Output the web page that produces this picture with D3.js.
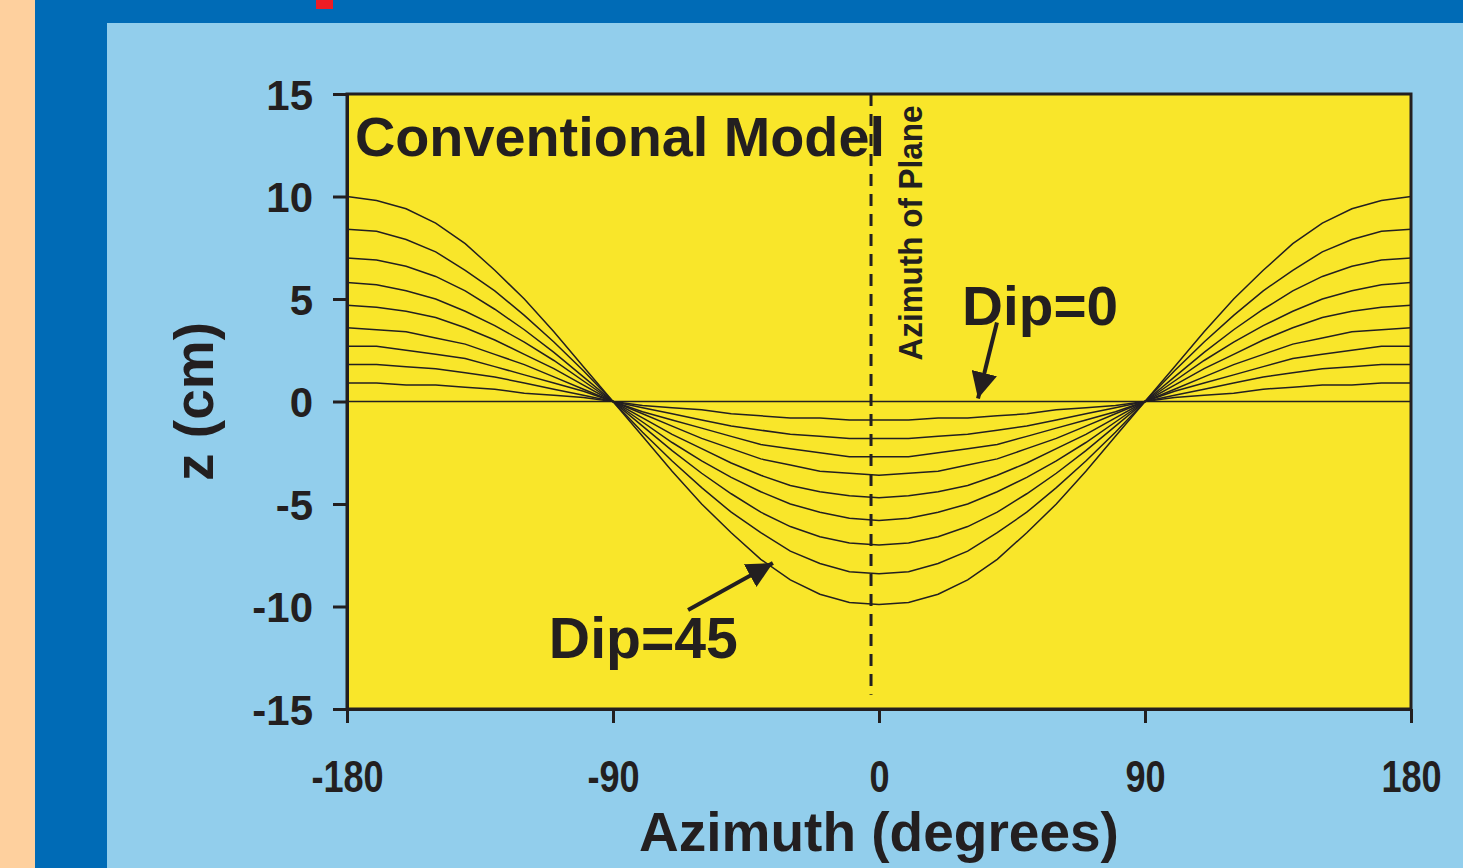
<!DOCTYPE html>
<html>
<head>
<meta charset="utf-8">
<script src="https://cdn.jsdelivr.net/npm/d3@7"></script>
<style>
  body { margin: 0; background: #92ceec; }
  svg { display: block; font-family: "Liberation Sans", Arial, sans-serif; font-weight: bold; }
</style>
</head>
<body>
<script>
// azimuth samples (degrees) and z (cm) for each dip
const azimuth = [-180,-170,-160,-150,-140,-130,-120,-110,-100,-90,-80,-70,-60,-50,-40,-30,-20,-10,0,
  10,20,30,40,50,60,70,80,90,100,110,120,130,140,150,160,170,180]
const dips = [0, 5, 10, 15, 20, 25, 30, 35, 40, 45]

const zDip0  = [0,0,0,0,0,0,0,0,0,0,0,0,0,0,0,0,0,0,0,0,0,0,0,0,0,0,0,0,0,0,0,0,0,0,0,0,0]
const zDip5  = [0.9,0.9,0.8,0.8,0.7,0.6,0.4,0.3,0.2,0,-0.2,-0.3,-0.4,-0.6,-0.7,-0.8,-0.8,-0.9,-0.9,
  -0.9,-0.8,-0.8,-0.7,-0.6,-0.4,-0.3,-0.2,0,0.2,0.3,0.4,0.6,0.7,0.8,0.8,0.9,0.9]
const zDip10 = [1.8,1.8,1.7,1.6,1.4,1.2,0.9,0.6,0.3,0,-0.3,-0.6,-0.9,-1.2,-1.4,-1.6,-1.7,-1.8,-1.8,
  -1.8,-1.7,-1.6,-1.4,-1.2,-0.9,-0.6,-0.3,0,0.3,0.6,0.9,1.2,1.4,1.6,1.7,1.8,1.8]
const zDip15 = [2.7,2.7,2.5,2.3,2.1,1.7,1.3,0.9,0.5,0,-0.5,-0.9,-1.3,-1.7,-2.1,-2.3,-2.5,-2.7,-2.7,
  -2.7,-2.5,-2.3,-2.1,-1.7,-1.3,-0.9,-0.5,0,0.5,0.9,1.3,1.7,2.1,2.3,2.5,2.7,2.7]
const zDip20 = [3.6,3.5,3.4,3.1,2.8,2.3,1.8,1.2,0.6,0,-0.6,-1.2,-1.8,-2.3,-2.8,-3.1,-3.4,-3.5,-3.6,
  -3.5,-3.4,-3.1,-2.8,-2.3,-1.8,-1.2,-0.6,0,0.6,1.2,1.8,2.3,2.8,3.1,3.4,3.5,3.6]
const zDip25 = [4.7,4.6,4.4,4.1,3.6,3.0,2.3,1.6,0.8,0,-0.8,-1.6,-2.3,-3.0,-3.6,-4.1,-4.4,-4.6,-4.7,
  -4.6,-4.4,-4.1,-3.6,-3.0,-2.3,-1.6,-0.8,0,0.8,1.6,2.3,3.0,3.6,4.1,4.4,4.6,4.7]
const zDip30 = [5.8,5.7,5.4,5.0,4.4,3.7,2.9,2.0,1.0,0,-1.0,-2.0,-2.9,-3.7,-4.4,-5.0,-5.4,-5.7,-5.8,
  -5.7,-5.4,-5.0,-4.4,-3.7,-2.9,-2.0,-1.0,0,1.0,2.0,2.9,3.7,4.4,5.0,5.4,5.7,5.8]
const zDip35 = [7.0,6.9,6.6,6.1,5.4,4.5,3.5,2.4,1.2,0,-1.2,-2.4,-3.5,-4.5,-5.4,-6.1,-6.6,-6.9,-7.0,
  -6.9,-6.6,-6.1,-5.4,-4.5,-3.5,-2.4,-1.2,0,1.2,2.4,3.5,4.5,5.4,6.1,6.6,6.9,7.0]
const zDip40 = [8.4,8.3,7.9,7.3,6.4,5.4,4.2,2.9,1.5,0,-1.5,-2.9,-4.2,-5.4,-6.4,-7.3,-7.9,-8.3,-8.4,
  -8.3,-7.9,-7.3,-6.4,-5.4,-4.2,-2.9,-1.5,0,1.5,2.9,4.2,5.4,6.4,7.3,7.9,8.3,8.4]
const zDip45 = [10.0,9.8,9.4,8.7,7.7,6.4,5.0,3.4,1.7,0,-1.7,-3.4,-5.0,-6.4,-7.7,-8.7,-9.4,-9.8,-9.9,
  -9.8,-9.4,-8.7,-7.7,-6.4,-5.0,-3.4,-1.7,0,1.7,3.4,5.0,6.4,7.7,8.7,9.4,9.8,10.0]

const series = [zDip0, zDip5, zDip10, zDip15, zDip20, zDip25, zDip30, zDip35, zDip40, zDip45]

const xTicks = [-180, -90, 0, 90, 180]
const yTicks = [-15, -10, -5, 0, 5, 10, 15]

const width = 1463, height = 868
const ink = '#231f20'

const svg = d3.select('body').append('svg')
  .attr('width', width)
  .attr('height', height)

// slide background
svg.append('rect').attr('x', 0).attr('y', 0).attr('width', width).attr('height', height).attr('fill', '#92ceec')
svg.append('rect').attr('x', 0).attr('y', 0).attr('width', 35).attr('height', height).attr('fill', '#fed09e')
svg.append('rect').attr('x', 35).attr('y', 0).attr('width', width - 35).attr('height', 23).attr('fill', '#006bb6')
svg.append('rect').attr('x', 35).attr('y', 0).attr('width', 72).attr('height', height).attr('fill', '#006bb6')
svg.append('rect').attr('x', 316).attr('y', 0).attr('width', 17).attr('height', 9).attr('fill', '#ed1c24')

const x = d3.scaleLinear().domain([-180, 180]).range([347, 1411])
const y = d3.scaleLinear().domain([-15, 15]).range([709, 94])

// plot area
svg.append('rect')
  .attr('x', x(-180)).attr('y', y(15))
  .attr('width', x(180) - x(-180)).attr('height', y(-15) - y(15))
  .attr('fill', '#f9e62a')

// curves
const line = d3.line()
  .x((d, i) => x(azimuth[i]))
  .y(d => y(d))

svg.append('g').selectAll('path')
  .data(series)
  .enter().append('path')
    .attr('d', line)
    .attr('fill', 'none')
    .attr('stroke', ink)
    .attr('stroke-width', 1.5)

// azimuth of plane marker
svg.append('line')
  .attr('x1', x(-2.7)).attr('x2', x(-2.7))
  .attr('y1', y(15)).attr('y2', y(-14.3))
  .attr('stroke', ink)
  .attr('stroke-width', 3)
  .attr('stroke-dasharray', '12,8')

// frame
svg.append('rect')
  .attr('x', x(-180)).attr('y', y(15))
  .attr('width', x(180) - x(-180)).attr('height', y(-15) - y(15))
  .attr('fill', 'none')
  .attr('stroke', ink)
  .attr('stroke-width', 3)

// axes (plain hyphen for negatives, like the original)
const fmt = d => String(d)
const xAxis = svg.append('g')
  .attr('transform', `translate(0,${y(-15)})`)
  .call(d3.axisBottom(x).tickValues(xTicks).tickSize(14).tickSizeOuter(0).tickFormat(fmt))
const yAxis = svg.append('g')
  .attr('transform', `translate(${x(-180)},0)`)
  .call(d3.axisLeft(y).tickValues(yTicks).tickSize(14).tickSizeOuter(0).tickFormat(fmt))

;[xAxis, yAxis].forEach(a => {
  a.select('.domain').attr('stroke', ink).attr('stroke-width', 3)
  a.selectAll('.tick line').attr('stroke', ink).attr('stroke-width', 3)
  a.selectAll('.tick text').attr('fill', ink).attr('font-family', '"Liberation Sans", Arial, sans-serif')
})

xAxis.selectAll('.tick text')
  .attr('font-size', 44)
  .attr('y', 83).attr('dy', 0)
  .each(function() {
    const len = this.getComputedTextLength()
    d3.select(this).attr('textLength', len * 0.82).attr('lengthAdjust', 'spacingAndGlyphs')
  })

yAxis.selectAll('.tick text')
  .attr('font-size', 42)
  .attr('x', -34).attr('dy', '0.36em')

// axis titles
svg.append('text')
  .attr('x', x(0)).attr('y', 851)
  .attr('text-anchor', 'middle')
  .attr('font-size', 55)
  .attr('fill', ink)
  .text('Azimuth (degrees)')

svg.append('text')
  .attr('transform', `translate(213,${y(0)}) rotate(-90)`)
  .attr('text-anchor', 'middle')
  .attr('font-size', 55)
  .attr('fill', ink)
  .text('z (cm)')

// annotations
svg.append('text')
  .attr('x', x(-177.3)).attr('y', y(12.0))
  .attr('font-size', 55)
  .attr('textLength', 530)
  .attr('lengthAdjust', 'spacingAndGlyphs')
  .attr('fill', ink)
  .text('Conventional Model')

svg.append('text')
  .attr('transform', `translate(${x(14.5)},${y(2.0)}) rotate(-90)`)
  .attr('font-size', 33)
  .attr('textLength', 255)
  .attr('lengthAdjust', 'spacingAndGlyphs')
  .attr('fill', ink)
  .text('Azimuth of Plane')

svg.append('text')
  .attr('x', x(28.1)).attr('y', y(3.75))
  .attr('font-size', 56)
  .attr('textLength', 156)
  .attr('lengthAdjust', 'spacingAndGlyphs')
  .attr('fill', ink)
  .text('Dip=0')

svg.append('text')
  .attr('x', x(-111.7)).attr('y', y(-12.5))
  .attr('font-size', 57)
  .attr('textLength', 189)
  .attr('lengthAdjust', 'spacingAndGlyphs')
  .attr('fill', ink)
  .text('Dip=45')

svg.append('defs').append('marker')
  .attr('id', 'head')
  .attr('viewBox', '0 0 10 10')
  .attr('refX', 10).attr('refY', 5)
  .attr('markerWidth', 6.5).attr('markerHeight', 6.5)
  .attr('markerUnits', 'strokeWidth')
  .attr('orient', 'auto')
  .append('path')
    .attr('d', 'M0,0 L10,5 L0,10 Z')
    .attr('fill', ink)

const arrows = [
  {from: [39.9, 3.85], to: [33.5, 0.15]},
  {from: [-64.6, -10.17], to: [-35.9, -7.88]}
]
svg.append('g').selectAll('line')
  .data(arrows)
  .enter().append('line')
    .attr('x1', d => x(d.from[0])).attr('y1', d => y(d.from[1]))
    .attr('x2', d => x(d.to[0])).attr('y2', d => y(d.to[1]))
    .attr('stroke', ink)
    .attr('stroke-width', 4)
    .attr('marker-end', 'url(#head)')
</script>
</body>
</html>
